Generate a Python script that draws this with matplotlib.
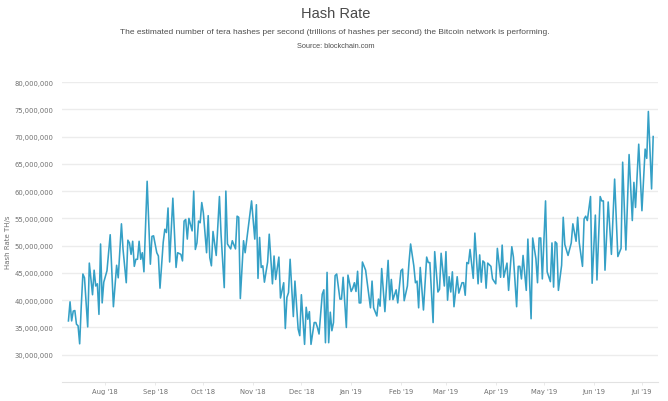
import datetime as dt

import matplotlib
matplotlib.use("Agg")
import matplotlib.pyplot as plt
import matplotlib.dates as mdates
from matplotlib.ticker import FuncFormatter

START = dt.date(2018, 7, 9)

DAY_OFFSETS = [
    0, 1, 2, 3, 4, 5, 6, 7, 8, 9, 10, 12, 13, 15, 16, 17, 18, 19, 20, 21, 22, 24, 26, 28, 30, 31,
    33, 34, 36, 37, 38, 39, 40, 41, 42, 43, 44, 45, 46, 47, 49, 51, 52, 53, 55, 56, 57, 59, 60,
    61, 62, 63, 65, 67, 68, 70, 71, 72, 73, 74, 75, 77, 78, 79, 80, 81, 82, 83, 84, 86, 87, 88,
    89, 90, 92, 94, 95, 97, 98, 99, 101, 102, 104, 105, 106, 107, 109, 110, 114, 116, 117, 118,
    119, 120, 121, 122, 124, 125, 127, 128, 129, 131, 132, 134, 135, 136, 137, 138, 140, 141,
    143, 144, 145, 147, 148, 149, 150, 151, 153, 154, 155, 156, 158, 159, 160, 161, 162, 163,
    164, 165, 166, 167, 169, 170, 171, 173, 174, 176, 177, 178, 179, 180, 181, 182, 183, 185,
    188, 189, 190, 192, 193, 194, 195, 197, 199, 200, 201, 202, 204, 205, 207, 208, 209, 211,
    212, 213, 215, 216, 217, 218, 219, 221, 223, 224, 225, 227, 228, 230, 231, 232, 234, 235,
    236, 237, 238, 239, 240, 242, 243, 245, 246, 247, 248, 249, 250, 252, 253, 255, 256, 257,
    258, 259, 260, 261, 263, 264, 266, 267, 269, 270, 271, 273, 274, 276, 277, 279, 280, 281,
    282, 283, 285, 286, 288, 289, 291, 292, 293, 294, 295, 297, 298, 300, 301, 302, 303, 304,
    305, 307, 308, 309, 311, 313, 314, 316, 317, 318, 320, 321, 322, 323, 325, 326, 328, 329,
    331, 332, 333, 334, 336, 338, 340, 342, 344, 345, 347, 349, 351, 352, 353, 355, 357, 359,
    360, 361, 363, 364,
]

# millions of TH/s
HASH_RATE_M = [
    36.2, 39.7, 36.2, 38.0, 38.1, 35.6, 35.3, 32.0, 39.0, 44.8, 44.1, 35.1, 46.8, 41.0, 45.5,
    42.6, 43.0, 37.4, 50.3, 39.5, 43.3, 45.4, 52.0, 38.8, 46.4, 44.1, 54.0, 49.3, 43.2, 51.0,
    50.5, 48.4, 50.8, 46.2, 47.5, 47.5, 50.8, 47.5, 48.7, 45.2, 61.8, 46.6, 51.7, 51.8, 48.7,
    48.1, 42.2, 50.6, 53.0, 52.4, 56.9, 47.0, 58.7, 46.0, 48.7, 48.4, 47.2, 54.5, 54.8, 51.2,
    55.0, 52.7, 60.0, 49.3, 50.5, 54.5, 54.2, 57.9, 56.0, 48.7, 55.5, 47.8, 46.3, 52.6, 48.2,
    59.0, 52.1, 42.3, 60.0, 50.3, 49.4, 50.9, 49.4, 55.4, 55.2, 40.3, 50.9, 48.7, 58.2, 51.2,
    57.5, 44.0, 51.5, 46.0, 46.3, 43.3, 47.0, 52.1, 43.0, 48.1, 43.8, 47.9, 40.4, 43.2, 34.8,
    40.5, 41.4, 47.5, 37.0, 43.5, 34.7, 33.5, 41.0, 31.9, 38.7, 36.5, 37.9, 31.9, 35.9, 35.9,
    35.0, 33.8, 41.1, 41.9, 32.2, 45.1, 32.2, 37.8, 34.4, 35.9, 44.5, 44.8, 40.2, 40.2, 44.2,
    35.0, 44.6, 41.6, 42.2, 43.2, 41.6, 45.3, 39.5, 39.5, 47.0, 45.5, 38.6, 43.5, 38.6, 37.1,
    40.2, 38.9, 45.8, 37.9, 47.3, 40.1, 43.8, 40.1, 41.9, 39.5, 45.4, 45.7, 39.9, 42.6, 46.9,
    50.3, 46.3, 43.2, 43.5, 38.6, 46.0, 38.2, 47.9, 46.9, 46.9, 35.9, 48.9, 41.5, 42.0, 48.6,
    42.6, 48.9, 40.0, 44.3, 41.5, 45.2, 38.8, 44.3, 41.3, 43.2, 43.2, 40.9, 46.9, 46.7, 49.3,
    44.0, 52.3, 43.0, 48.3, 43.3, 47.2, 46.9, 42.2, 46.8, 46.2, 43.9, 43.0, 49.5, 44.2, 50.1,
    44.2, 46.8, 41.8, 49.8, 47.9, 38.8, 46.2, 46.2, 43.9, 48.2, 41.8, 51.2, 36.6, 51.4, 47.6,
    43.2, 51.4, 51.4, 43.9, 58.2, 45.2, 43.4, 50.5, 42.4, 50.7, 50.4, 41.8, 46.4, 55.2, 50.2,
    48.2, 50.5, 54.0, 50.8, 55.2, 50.5, 46.2, 54.9, 55.4, 54.6, 59.0, 43.1, 55.6, 43.7, 59.0,
    58.2, 58.2, 45.5, 58.0, 48.4, 62.2, 48.0, 49.5, 65.3, 49.2, 66.7, 54.6, 61.6, 57.0, 68.6,
    56.4, 67.7, 66.0, 74.6, 60.4, 70.0,
]

Y_TICKS = [30e6, 35e6, 40e6, 45e6, 50e6, 55e6, 60e6, 65e6, 70e6, 75e6, 80e6]
X_TICKS = [
    dt.date(2018, 8, 1), dt.date(2018, 9, 1), dt.date(2018, 10, 1), dt.date(2018, 11, 1),
    dt.date(2018, 12, 1), dt.date(2019, 1, 1), dt.date(2019, 2, 1), dt.date(2019, 3, 1),
    dt.date(2019, 4, 1), dt.date(2019, 5, 1), dt.date(2019, 6, 1), dt.date(2019, 7, 1),
]

W, H = 668, 402
LINE_COLOR = "#35a0c6"
TEXT_COLOR = "#6f6f6f"

plt.rcParams["font.family"] = ["Liberation Sans", "DejaVu Sans"]

dates = [START + dt.timedelta(days=d) for d in DAY_OFFSETS]
values = [v * 1e6 for v in HASH_RATE_M]

fig = plt.figure(figsize=(W / 100, H / 100), dpi=100)
ax = fig.add_axes([62 / W, 1 - 383 / H, 596 / W, 300 / H])

ax.plot(dates, values, color=LINE_COLOR, lw=1.15, solid_joinstyle="round")

ax.set_ylim(25e6, 80e6)
ax.set_xlim(START - dt.timedelta(days=4), START + dt.timedelta(days=367))
ax.set_yticks(Y_TICKS)
ax.yaxis.set_major_formatter(FuncFormatter(lambda v, _: f"{v:,.0f}"))
ax.set_xticks(X_TICKS)
ax.xaxis.set_major_formatter(mdates.DateFormatter("%b '%y"))

ax.grid(axis="y", color="#ececec", lw=1.0)
ax.set_axisbelow(True)
for side in ["top", "right", "left"]:
    ax.spines[side].set_visible(False)
ax.spines["bottom"].set_color("#e2e2e2")
ax.tick_params(axis="y", length=0, pad=6, labelsize=4.9, labelcolor=TEXT_COLOR)
ax.tick_params(axis="x", length=2, width=0.5, color="#e2e2e2", pad=2.5, labelsize=4.9,
               labelcolor=TEXT_COLOR)
for label in ax.get_xticklabels() + ax.get_yticklabels():
    label.set_family("DejaVu Sans")

fig.text(8.5 / W, 1 - 242 / H, "Hash Rate TH/s", rotation=90, ha="center", va="center",
         fontsize=5.0, color=TEXT_COLOR, family="DejaVu Sans")

fig.text(336 / W, 1 - 14 / H, "Hash Rate", ha="center", va="center", fontsize=10.5,
         color="#4a4a4a")
fig.text(335 / W, 1 - 33 / H,
         "The estimated number of tera hashes per second (trillions of hashes per second) "
         "the Bitcoin network is performing.",
         ha="center", va="center", fontsize=6.05, color="#4f4f4f")
fig.text(336 / W, 1 - 47 / H, "Source: blockchain.com", ha="center", va="center",
         fontsize=5.3, color="#4f4f4f")

fig.savefig("out.png", dpi=100)
